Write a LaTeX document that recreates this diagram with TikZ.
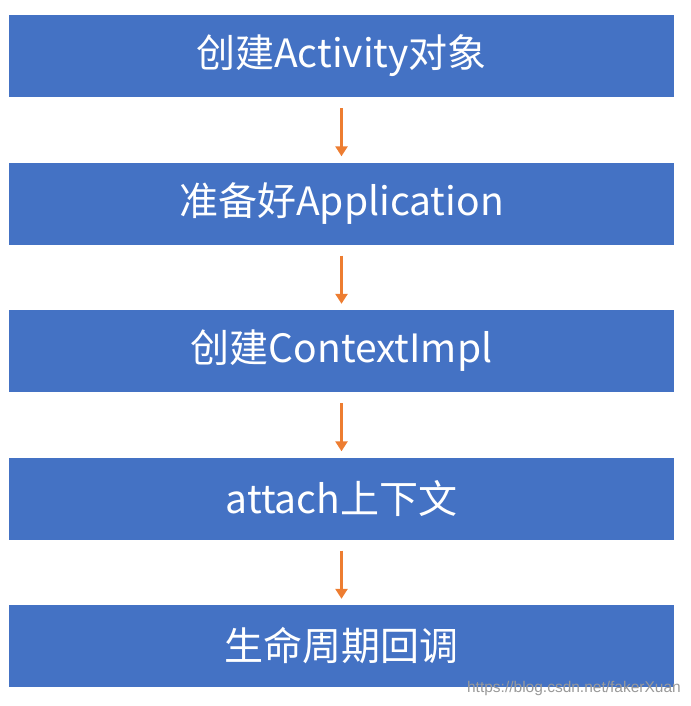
\documentclass[tikz,border=0pt]{standalone}
\usepackage{fontspec}
\newfontfamily\cjk{Noto Sans CJK SC}
\usetikzlibrary{arrows.meta}
\definecolor{boxblue}{HTML}{4472C4}
\definecolor{arroworange}{HTML}{ED7D31}
\begin{document}
\begin{tikzpicture}[x=1pt,y=-1pt,
  stepbox/.style={fill=boxblue,draw=none,minimum width=665pt,minimum height=82pt,inner sep=0pt,
    text=white,font=\cjk\fontsize{39}{44}\selectfont},
  flow/.style={draw=arroworange,line width=2.5pt,-{Triangle[length=10pt,width=12pt]}}]
\useasboundingbox (0,0) rectangle (690,706);
\node[stepbox] (b1) at (341.5,56) {创建Activity对象};
\node[stepbox] (b2) at (341.5,203.5) {准备好Application};
\node[stepbox] (b3) at (341.5,351) {创建ContextImpl};
\node[stepbox] (b4) at (341.5,498.5) {attach上下文};
\node[stepbox] (b5) at (341.5,646) {生命周期回调};
\draw[flow] ([yshift=-11pt]b1.south) -- ([yshift=6pt]b2.north);
\draw[flow] ([yshift=-11pt]b2.south) -- ([yshift=6pt]b3.north);
\draw[flow] ([yshift=-11pt]b3.south) -- ([yshift=6pt]b4.north);
\draw[flow] ([yshift=-11pt]b4.south) -- ([yshift=6pt]b5.north);
\node[anchor=east,text=gray!80,font=\fontspec{Liberation Sans}\fontsize{15.5}{17}\selectfont,inner sep=0pt] (wm) at (681,688) {https://blog.csdn.net/fakerXuan};
\end{tikzpicture}
\end{document}
